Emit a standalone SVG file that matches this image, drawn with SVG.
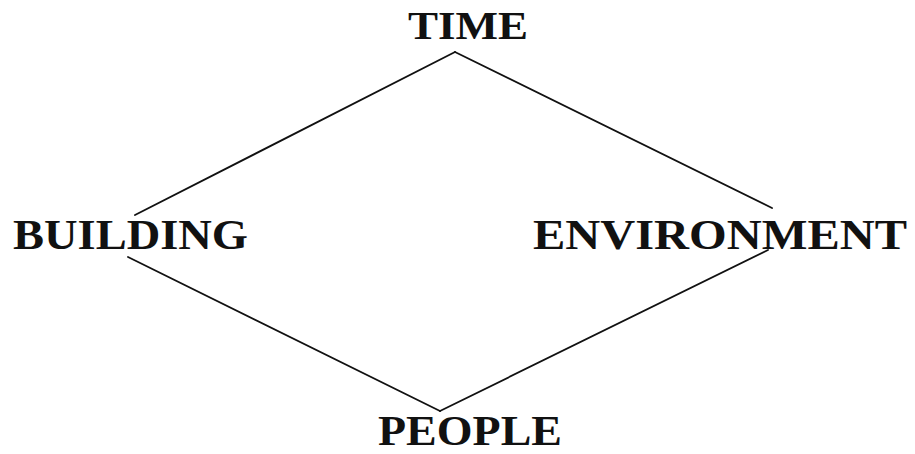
<svg xmlns="http://www.w3.org/2000/svg" width="915" height="454" viewBox="0 0 915 454">
<style>
.lbl{font-family:"Liberation Serif","Times New Roman",serif;font-weight:bold;font-size:42px;fill:#111}
.edge{stroke:#111;stroke-width:1.8;fill:none;stroke-linecap:round}
</style>
<rect width="915" height="454" fill="#fff"/>
<g id="connectors">
<line class="edge" x1="455" y1="52" x2="135" y2="215"/>
<line class="edge" x1="455" y1="52" x2="772" y2="208"/>
<line class="edge" x1="128" y1="257" x2="440" y2="411"/>
<line class="edge" x1="768" y1="250" x2="440" y2="411"/>
</g>
<g id="time"><text class="lbl" x="408" y="39" style="font-size:40px" textLength="120" lengthAdjust="spacingAndGlyphs">TIME</text></g>
<g id="building"><text class="lbl" x="13" y="249" textLength="235" lengthAdjust="spacingAndGlyphs">BUILDING</text></g>
<g id="environment"><text class="lbl" x="533" y="249" textLength="374" lengthAdjust="spacingAndGlyphs">ENVIRONMENT</text></g>
<g id="people"><text class="lbl" x="378" y="445" style="font-size:42px" textLength="184" lengthAdjust="spacingAndGlyphs">PEOPLE</text></g>
</svg>
